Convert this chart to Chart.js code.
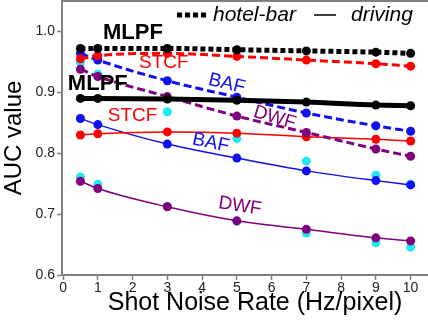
<!DOCTYPE html>
<html>
<head>
<meta charset="utf-8">
<script src="https://cdn.jsdelivr.net/npm/chart.js@4"></script>
<style>
html,body{margin:0;padding:0;background:#fff;overflow:hidden;}
canvas{display:block;}
</style>
</head>
<body>
<canvas id="c" width="428" height="320"></canvas>
<script>
const noiseRates = [0.5, 1, 3, 5, 7, 9, 10];
const mlpfHotel = [0.972, 0.972, 0.972, 0.970, 0.968, 0.966, 0.964];
const stcfHotel = [0.955, 0.960, 0.964, 0.959, 0.953, 0.947, 0.943];
const bafHotel  = [0.964, 0.953, 0.919, 0.892, 0.866, 0.845, 0.836];
const dwfHotel  = [0.938, 0.926, 0.893, 0.861, 0.834, 0.807, 0.795];
const mlpfDrive = [0.890, 0.890, 0.889, 0.887, 0.884, 0.879, 0.878];
const stcfDrive = [0.830, 0.832, 0.835, 0.833, 0.827, 0.823, 0.820];
const bafDrive  = [0.857, 0.847, 0.815, 0.792, 0.771, 0.755, 0.748];
const dwfDrive  = [0.754, 0.742, 0.712, 0.689, 0.675, 0.661, 0.656];
const extraHotel = [0.949, 0.930, 0.868, 0.824, 0.787, 0.764, 0.749];
const extraDrive = [0.761, 0.749, 0.713, 0.688, 0.669, 0.653, 0.646];
const xTickValues = [0,1,2,3,4,5,6,7,8,9,10];
const yTickValues = [0.6,0.7,0.8,0.9,1.0];
const legendLabels = ['hotel-bar', 'driving'];
const methodNames = ['MLPF', 'STCF', 'BAF', 'DWF'];

const pts = arr => arr.map((v,i)=>({x: noiseRates[i], y: v}));
const AX = '#808080';

function lineDs(data, color, width, dash, radius, order, tension){
  return {data: pts(data), borderColor: color, backgroundColor: color,
    pointBackgroundColor: color, pointBorderColor: color, borderWidth: width,
    borderDash: dash, borderCapStyle: 'butt', pointRadius: radius, pointBorderWidth: 0,
    tension: tension, cubicInterpolationMode: 'monotone', order: order, fill: false};
}

const textPlugin = {
  id: 'texts',
  afterDatasetsDraw(chart){
    const ctx = chart.ctx, xs = chart.scales.x, ys = chart.scales.y, ca = chart.chartArea;
    ctx.save();
    ctx.strokeStyle = AX; ctx.lineWidth = 2;
    ctx.beginPath(); ctx.moveTo(ca.left, ca.top); ctx.lineTo(ca.right, ca.top); ctx.stroke();
    const lab = (t, x, y, color, font, rot) => {
      ctx.save();
      ctx.translate(xs.getPixelForValue(x), ys.getPixelForValue(y));
      ctx.rotate(rot*Math.PI/180);
      ctx.fillStyle = color; ctx.font = font;
      ctx.textAlign = 'center'; ctx.textBaseline = 'middle';
      ctx.fillText(t, 0, 0);
      ctx.restore();
    };
    const F = '"Liberation Sans", Arial, sans-serif';
    lab(methodNames[0], 2.01, 0.997, '#000', 'bold 22px ' + F, 0);
    lab(methodNames[0], 1.0, 0.913, '#000', 'bold 22px ' + F, 0);
    lab(methodNames[1], 2.9, 0.949, '#ff0000', '19px ' + F, 0);
    lab(methodNames[1], 2.0, 0.862, '#ff0000', '19px ' + F, 0);
    lab(methodNames[2], 4.71, 0.914, '#1010f0', '19px ' + F, 14);
    lab(methodNames[2], 4.25, 0.817, '#1010f0', '19px ' + F, 12);
    lab(methodNames[3], 6.09, 0.858, '#800080', '19px ' + F, 17);
    lab(methodNames[3], 5.09, 0.713, '#800080', '19px ' + F, 9);
    ctx.strokeStyle = '#000';
    ctx.lineWidth = 5; ctx.setLineDash([5,3]); ctx.lineCap = 'butt';
    ctx.beginPath(); ctx.moveTo(177, 15); ctx.lineTo(206, 15); ctx.stroke();
    ctx.setLineDash([]); ctx.lineWidth = 1.5;
    ctx.beginPath(); ctx.moveTo(314, 15); ctx.lineTo(336, 15); ctx.stroke();
    ctx.fillStyle = '#000'; ctx.font = 'italic 21px ' + F;
    ctx.textAlign = 'left'; ctx.textBaseline = 'middle';
    ctx.fillText(legendLabels[0], 213, 15);
    ctx.fillText(legendLabels[1], 351, 15);
    ctx.font = '25px ' + F; ctx.textAlign = 'center';
    ctx.fillText('Shot Noise Rate (Hz/pixel)', 255, 303);
    ctx.restore();
  }
};

new Chart(document.getElementById('c'), {
  type: 'line',
  data: {
    datasets: [
      lineDs(mlpfHotel, '#000000', 5, [5,3], 4.5, 1, 0),
      lineDs(mlpfDrive, '#000000', 5, [], 4.5, 2, 0.3),
      lineDs(stcfHotel, '#ff0000', 3, [8,4], 4.5, 3, 0),
      lineDs(stcfDrive, '#ff0000', 1.5, [], 4.5, 4, 0.3),
      lineDs(bafHotel, '#1010f0', 3, [8,4], 4.5, 3, 0),
      lineDs(bafDrive, '#1010f0', 1.5, [], 4.5, 4, 0.3),
      lineDs(dwfHotel, '#800080', 3, [8,4], 4.5, 3, 0),
      lineDs(dwfDrive, '#800080', 1.5, [], 4.5, 4, 0.3),
      {data: pts(extraHotel), showLine: false, pointRadius: 4.5, pointBorderWidth: 0,
       pointBackgroundColor: '#1ee8f0', backgroundColor: '#1ee8f0', borderColor: '#1ee8f0', order: 10},
      {data: pts(extraDrive), showLine: false, pointRadius: 4.5, pointBorderWidth: 0,
       pointBackgroundColor: '#1ee8f0', backgroundColor: '#1ee8f0', borderColor: '#1ee8f0', order: 10}
    ]
  },
  options: {
    responsive: false, animation: false, devicePixelRatio: 1,
    layout: {autoPadding: false, padding: {top: 1, right: 0, left: 0, bottom: 0}},
    plugins: {legend: {display: false}, tooltip: {enabled: false}},
    scales: {
      x: {
        type: 'linear', min: -0.03, max: 10.5,
        afterBuildTicks: s => { s.ticks = xTickValues.map(v => ({value: v})); },
        afterFit: s => { s.height = 45; s.paddingLeft = 0; s.paddingRight = 0; },
        ticks: {color: '#222', font: {family: '"Liberation Sans", Arial, sans-serif', size: 14}, padding: 0, maxRotation: 0,
                callback: v => String(v)},
        grid: {drawOnChartArea: false, drawTicks: true, tickLength: 5, color: AX, tickWidth: 1.5},
        border: {color: AX, width: 2}
      },
      y: {
        type: 'linear', min: 0.6, max: 1.05,
        afterBuildTicks: s => { s.ticks = yTickValues.map(v => ({value: v})); },
        afterFit: s => { s.width = 62; s.paddingTop = 0; s.paddingBottom = 0; },
        ticks: {color: '#222', font: {family: '"Liberation Sans", Arial, sans-serif', size: 14}, padding: 2,
                callback: v => Number(v).toFixed(1)},
        grid: {drawOnChartArea: false, drawTicks: true, tickLength: 5, color: AX, tickWidth: 1.5},
        border: {color: AX, width: 2},
        title: {display: true, text: 'AUC value', color: '#000',
                font: {family: '"Liberation Sans", Arial, sans-serif', size: 24}, padding: {top: 0, bottom: 0}}
      }
    }
  },
  plugins: [textPlugin]
});
</script>
</body>
</html>
